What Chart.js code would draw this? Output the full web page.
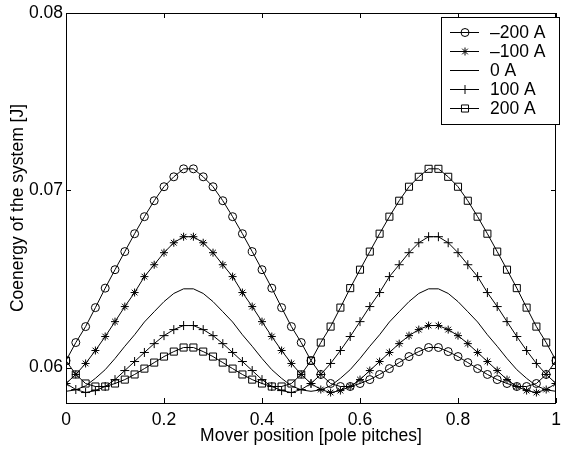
<!DOCTYPE html>
<html>
<head>
<meta charset="utf-8">
<script src="https://cdn.jsdelivr.net/npm/chart.js@4"></script>
<style>
  html, body { margin: 0; padding: 0; background: #fff; }
  #wrap { width: 562px; height: 451px; }
</style>
</head>
<body>
<div id="wrap"><canvas id="coenergyChart"></canvas></div>
<script>
// mover position (pole pitches)
const positions = [0, 0.02, 0.04, 0.06, 0.08, 0.10, 0.12, 0.14, 0.16, 0.18, 0.20, 0.22, 0.24, 0.26, 0.28, 0.30, 0.32, 0.34, 0.36, 0.38, 0.40, 0.42, 0.44, 0.46, 0.48, 0.50,
    0.52, 0.54, 0.56, 0.58, 0.60, 0.62, 0.64, 0.66, 0.68, 0.70, 0.72, 0.74, 0.76, 0.78, 0.80, 0.82, 0.84, 0.86, 0.88, 0.90, 0.92, 0.94, 0.96, 0.98, 1.00];

const seriesLabels = ['\u2013200 A', '\u2013100 A', '0 A', '100 A', '200 A'];

// coenergy [J]
const minus200 = [0.06039, 0.06141, 0.06231, 0.06338, 0.06448, 0.06552, 0.06654, 0.06755, 0.06851, 0.06941, 0.07020, 0.07076, 0.07121,
    0.07121, 0.07076, 0.07020, 0.06941, 0.06851, 0.06755, 0.06654, 0.06552, 0.06448, 0.06338, 0.06231, 0.06141, 0.06039,
    0.05961, 0.05910, 0.05893, 0.05893, 0.05910, 0.05932, 0.05961, 0.05994, 0.06028, 0.06062, 0.06090, 0.06113,
    0.06113, 0.06090, 0.06062, 0.06028, 0.05994, 0.05961, 0.05932, 0.05910, 0.05893, 0.05893, 0.05910, 0.05961, 0.06039];
const minus100 = [0.05910, 0.05961, 0.06023, 0.06096, 0.06175, 0.06259, 0.06344, 0.06423, 0.06513, 0.06580, 0.06648, 0.06704, 0.06738,
    0.06738, 0.06704, 0.06648, 0.06580, 0.06513, 0.06423, 0.06344, 0.06259, 0.06175, 0.06096, 0.06023, 0.05961, 0.05910,
    0.05876, 0.05859, 0.05870, 0.05893, 0.05932, 0.05983, 0.06034, 0.06085, 0.06135, 0.06180, 0.06214, 0.06237,
    0.06237, 0.06214, 0.06180, 0.06135, 0.06085, 0.06034, 0.05983, 0.05932, 0.05893, 0.05870, 0.05859, 0.05876, 0.05910];
const zeroAmp = [0.05866, 0.05874, 0.05897, 0.05939, 0.05988, 0.06051, 0.06120, 0.06185, 0.06257, 0.06315, 0.06372, 0.06418, 0.06444,
    0.06444, 0.06418, 0.06372, 0.06315, 0.06257, 0.06185, 0.06120, 0.06051, 0.05988, 0.05939, 0.05897, 0.05874, 0.05866,
    0.05874, 0.05897, 0.05939, 0.05988, 0.06051, 0.06120, 0.06185, 0.06257, 0.06315, 0.06372, 0.06418, 0.06444,
    0.06444, 0.06418, 0.06372, 0.06315, 0.06257, 0.06185, 0.06120, 0.06051, 0.05988, 0.05939, 0.05897, 0.05874, 0.05866];
const plus100 = [0.05910, 0.05876, 0.05859, 0.05870, 0.05893, 0.05932, 0.05983, 0.06034, 0.06085, 0.06135, 0.06180, 0.06214, 0.06237,
    0.06237, 0.06214, 0.06180, 0.06135, 0.06085, 0.06034, 0.05983, 0.05932, 0.05893, 0.05870, 0.05859, 0.05876, 0.05910,
    0.05961, 0.06023, 0.06096, 0.06175, 0.06259, 0.06344, 0.06423, 0.06513, 0.06580, 0.06648, 0.06704, 0.06738,
    0.06738, 0.06704, 0.06648, 0.06580, 0.06513, 0.06423, 0.06344, 0.06259, 0.06175, 0.06096, 0.06023, 0.05961, 0.05910];
const plus200 = [0.06039, 0.05961, 0.05910, 0.05893, 0.05893, 0.05910, 0.05932, 0.05961, 0.05994, 0.06028, 0.06062, 0.06090, 0.06113,
    0.06113, 0.06090, 0.06062, 0.06028, 0.05994, 0.05961, 0.05932, 0.05910, 0.05893, 0.05893, 0.05910, 0.05961, 0.06039,
    0.06141, 0.06231, 0.06338, 0.06448, 0.06552, 0.06654, 0.06755, 0.06851, 0.06941, 0.07020, 0.07076, 0.07121,
    0.07121, 0.07076, 0.07020, 0.06941, 0.06851, 0.06755, 0.06654, 0.06552, 0.06448, 0.06338, 0.06231, 0.06141, 0.06039];

const xTicks = [0, 0.2, 0.4, 0.6, 0.8, 1];
const yTicks = [0.06, 0.07, 0.08];

const FONT = '"Liberation Sans", Arial, Helvetica, sans-serif';
const FSIZE = 17.5;

function toPoints(arr) {
    return positions.map((x, i) => ({ x: x, y: arr[i] }));
}

function makeSet(label, arr, style, radius) {
    return {
        label: label,
        data: toPoints(arr),
        borderColor: '#000',
        borderWidth: 1,
        backgroundColor: 'rgba(0,0,0,0)',
        pointStyle: style,
        pointRadius: radius,
        pointHoverRadius: radius,
        pointBorderColor: '#000',
        pointBorderWidth: 1,
        pointBackgroundColor: 'rgba(0,0,0,0)',
        tension: 0,
        fill: false
    };
}

const datasets = [
    makeSet(seriesLabels[0], minus200, 'circle', 4),
    makeSet(seriesLabels[1], minus100, 'star', 4),
    makeSet(seriesLabels[2], zeroAmp, false, 0),
    makeSet(seriesLabels[3], plus100, 'cross', 4.5),
    makeSet(seriesLabels[4], plus200, 'rect', 5)
];

// simple marker drawing for the legend
function drawMarker(ctx, style, r, x, y) {
    ctx.beginPath();
    if (style === 'circle') {
        ctx.arc(x, y, r, 0, Math.PI * 2);
    } else if (style === 'rect') {
        const s = r / Math.SQRT2;
        ctx.rect(x - s, y - s, 2 * s, 2 * s);
    } else if (style === 'cross') {
        ctx.moveTo(x - r, y); ctx.lineTo(x + r, y);
        ctx.moveTo(x, y - r); ctx.lineTo(x, y + r);
    } else if (style === 'star') {
        const d = r * Math.SQRT1_2;
        ctx.moveTo(x - r, y); ctx.lineTo(x + r, y);
        ctx.moveTo(x, y - r); ctx.lineTo(x, y + r);
        ctx.moveTo(x - d, y - d); ctx.lineTo(x + d, y + d);
        ctx.moveTo(x - d, y + d); ctx.lineTo(x + d, y - d);
    } else {
        return;
    }
    ctx.stroke();
}

// box, inward ticks on all four sides, legend inside the plot
const framePlugin = {
    id: 'frame',
    afterDraw(chart) {
        const ctx = chart.ctx;
        const a = chart.chartArea;
        const xs = chart.scales.x, ys = chart.scales.y;
        ctx.save();
        ctx.strokeStyle = '#000';
        ctx.lineWidth = 1;
        ctx.strokeRect(Math.round(a.left) + 0.5, Math.round(a.top) + 0.5,
            Math.round(a.right - a.left) - 1, Math.round(a.bottom - a.top));
        const tl = 5;
        ctx.beginPath();
        xTicks.forEach(v => {
            const px = Math.round(xs.getPixelForValue(v)) + 0.5;
            ctx.moveTo(px, a.bottom); ctx.lineTo(px, a.bottom - tl);
            ctx.moveTo(px, a.top); ctx.lineTo(px, a.top + tl);
        });
        yTicks.forEach(v => {
            const py = Math.round(ys.getPixelForValue(v)) + 0.5;
            ctx.moveTo(a.left, py); ctx.lineTo(a.left + tl, py);
            ctx.moveTo(a.right, py); ctx.lineTo(a.right - tl, py);
        });
        ctx.stroke();

        // legend
        const lx = 441.5, ly = 17.5, lw = 118, lh = 107;
        ctx.fillStyle = '#fff';
        ctx.fillRect(lx, ly, lw, lh);
        ctx.strokeRect(lx, ly, lw, lh);
        ctx.font = FSIZE + 'px ' + FONT;
        ctx.textAlign = 'left';
        ctx.textBaseline = 'middle';
        chart.data.datasets.forEach((ds, i) => {
            const y = Math.round(32 + i * 19) + 0.5;
            ctx.beginPath();
            ctx.moveTo(450, y); ctx.lineTo(479, y);
            ctx.stroke();
            drawMarker(ctx, ds.pointStyle, ds.pointRadius, 465, y);
            ctx.fillStyle = '#000';
            ctx.fillText(ds.label, 490, y + 1);
        });
        ctx.restore();
    }
};

const ctx = document.getElementById('coenergyChart').getContext('2d');
const coenergyChart = new Chart(ctx, {
    type: 'line',
    data: { datasets: datasets },
    options: {
        responsive: true,
        maintainAspectRatio: false,
        animation: false,
        events: [],
        layout: { padding: { top: 13, right: 1, left: 0, bottom: 0 } },
        scales: {
            x: {
                type: 'linear',
                min: 0,
                max: 1,
                afterBuildTicks: scale => { scale.ticks = xTicks.map(v => ({ value: v })); },
                afterFit: scale => {
                    scale.height = 48;
                    scale.paddingLeft = 0;
                    scale.paddingRight = 0;
                },
                grid: { display: false, drawTicks: false },
                border: { display: false },
                ticks: {
                    color: '#000',
                    font: { family: FONT, size: FSIZE },
                    padding: 7,
                    maxRotation: 0,
                    callback: v => String(v)
                },
                title: {
                    display: true,
                    text: 'Mover position [pole pitches]',
                    color: '#000',
                    font: { family: FONT, size: FSIZE },
                    padding: { top: 0, bottom: 4 }
                }
            },
            y: {
                min: 0.058,
                max: 0.08,
                afterBuildTicks: scale => { scale.ticks = yTicks.map(v => ({ value: v })); },
                afterFit: scale => {
                    scale.width = 66;
                    scale.paddingTop = 0;
                    scale.paddingBottom = 0;
                },
                grid: { display: false, drawTicks: false },
                border: { display: false },
                ticks: {
                    color: '#000',
                    font: { family: FONT, size: FSIZE },
                    padding: 3,
                    callback: v => v.toFixed(2)
                },
                title: {
                    display: true,
                    text: 'Coenergy of the system [J]',
                    color: '#000',
                    font: { family: FONT, size: FSIZE },
                    padding: { top: 8, bottom: 0 }
                }
            }
        },
        plugins: {
            legend: { display: false },
            title: { display: false },
            tooltip: { enabled: false }
        }
    },
    plugins: [framePlugin]
});
</script>
</body>
</html>
